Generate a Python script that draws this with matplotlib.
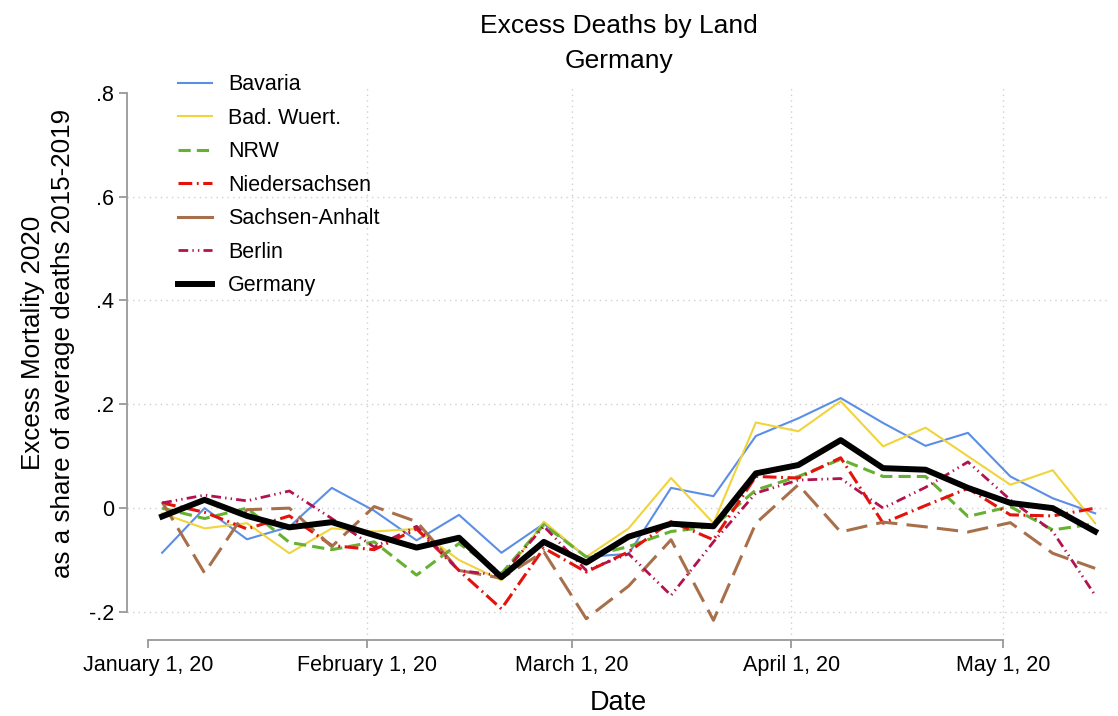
import matplotlib
matplotlib.use("Agg")
import matplotlib.pyplot as plt
import matplotlib.dates as mdates
import pandas as pd

plt.rcParams['font.family'] = ['Liberation Sans', 'DejaVu Sans']

# weekly observations (6-day steps as plotted)
dates = pd.to_datetime([
    '2020-01-03', '2020-01-09', '2020-01-15', '2020-01-21', '2020-01-27',
    '2020-02-02', '2020-02-08', '2020-02-14', '2020-02-20', '2020-02-26',
    '2020-03-03', '2020-03-09', '2020-03-15', '2020-03-21', '2020-03-27',
    '2020-04-02', '2020-04-08', '2020-04-14', '2020-04-20', '2020-04-26',
    '2020-05-02', '2020-05-08', '2020-05-14'])

bavaria = [-0.086, 0.0, -0.06, -0.036, 0.039, -0.005, -0.062, -0.013, -0.086, -0.03, -0.094, -0.088,
           0.039, 0.023, 0.139, 0.173, 0.212, 0.164, 0.12, 0.145, 0.061, 0.019, -0.01]
bad_wuert = [-0.01, -0.039, -0.029, -0.087, -0.039, -0.045, -0.04, -0.10, -0.139, -0.026, -0.094, -0.039,
             0.058, -0.029, 0.165, 0.148, 0.206, 0.119, 0.155, 0.10, 0.045, 0.073, -0.029]
nrw = [0.0, -0.02, 0.0, -0.066, -0.08, -0.065, -0.129, -0.068, -0.126, -0.032, -0.094, -0.074,
       -0.045, -0.035, 0.035, 0.061, 0.094, 0.061, 0.061, -0.016, 0.003, -0.042, -0.03]
niedersachsen = [0.01, -0.008, -0.04, -0.015, -0.072, -0.08, -0.04, -0.12, -0.194, -0.077, -0.123, -0.084,
                 -0.026, -0.061, 0.061, 0.058, 0.097, -0.029, 0.005, 0.038, -0.013, -0.015, 0.0]
sachsen_anhalt = [0.012, -0.125, -0.003, 0.0, -0.074, 0.003, -0.026, -0.12, -0.135, -0.084, -0.213, -0.15,
                  -0.061, -0.216, -0.029, 0.045, -0.046, -0.027, -0.036, -0.046, -0.028, -0.087, -0.116]
berlin = [0.01, 0.025, 0.014, 0.033, -0.02, -0.075, -0.035, -0.12, -0.13, -0.035, -0.12, -0.088,
          -0.168, -0.065, 0.029, 0.054, 0.057, 0.0, 0.04, 0.089, 0.016, -0.045, -0.168]
germany = [-0.016, 0.016, -0.015, -0.037, -0.027, -0.052, -0.076, -0.057, -0.133, -0.065, -0.105, -0.055,
           -0.03, -0.035, 0.067, 0.083, 0.131, 0.077, 0.074, 0.039, 0.01, 0.0, -0.045]

yticks = [-0.2, 0, 0.2, 0.4, 0.6, 0.8]
ytick_labels = ['-.2', '0', '.2', '.4', '.6', '.8']
xticks = pd.to_datetime(['2020-01-01', '2020-02-01', '2020-03-01', '2020-04-01', '2020-05-01'])
xtick_labels = ['January 1, 20', 'February 1, 20', 'March 1, 20', 'April 1, 20', 'May 1, 20']

fig = plt.figure(figsize=(11.18, 7.16), dpi=100)
ax = fig.add_axes([127 / 1118, 76 / 716, 983 / 1118, 555 / 716])

# grid (Stata style: dotted, not at the outer ticks)
for y in yticks[:-1]:
    ax.axhline(y, color='#d0d0d0', lw=1, ls=(0, (1, 3)), zorder=0)
for d in xticks[1:]:
    ax.axvline(d, color='#d0d0d0', lw=1, ls=(0, (1, 3)), zorder=0)

ax.plot(dates, bavaria, color='#5b8ee6', lw=1.5, label='Bavaria')
ax.plot(dates, bad_wuert, color='#f0d43a', lw=1.5, label='Bad. Wuert.')
ax.plot(dates, nrw, color='#66b032', lw=2.2, ls=(0, (4, 2)), label='NRW')
ax.plot(dates, niedersachsen, color='#e3120b', lw=2.2, ls=(0, (4.5, 1.5, 0.6, 1.5)), label='Niedersachsen')
ax.plot(dates, sachsen_anhalt, color='#a8704a', lw=2.2, ls=(0, (7, 3)), label='Sachsen-Anhalt')
ax.plot(dates, berlin, color='#b3124e', lw=2.0, ls=(0, (3.5, 1.5, 0.5, 1.5, 0.5, 1.5)), label='Berlin')
ax.plot(dates, germany, color='black', lw=4.3, label='Germany')

day0 = pd.Timestamp('2020-01-01')
ax.set_xlim(mdates.date2num(day0 - pd.Timedelta(days=2.97)), mdates.date2num(day0 + pd.Timedelta(days=136.1)))
ax.set_ylim(-0.254, 0.815)

ax.set_yticks(yticks)
ax.set_yticklabels(ytick_labels)
ax.set_xticks(xticks)
ax.set_xticklabels(xtick_labels)

for s in ['top', 'right']:
    ax.spines[s].set_visible(False)
ax.spines['left'].set_bounds(-0.2, 0.8)
ax.spines['bottom'].set_bounds(mdates.date2num(xticks[0]), mdates.date2num(xticks[-1]))
for s in ['left', 'bottom']:
    ax.spines[s].set_color('#999999')
    ax.spines[s].set_linewidth(1.3)
ax.tick_params(axis='both', colors='#999999', length=6, width=1.3, labelsize=15.5, labelcolor='black')
ax.tick_params(axis='x', pad=5)

ax.set_xlabel('Date', fontsize=19.5, labelpad=10)
ax.set_ylabel('Excess Mortality 2020\nas a share of average deaths 2015-2019', fontsize=18.7,
              linespacing=1.3)
ax.yaxis.set_label_coords(-0.053, 0.535)
ax.set_title('Excess Deaths by Land\nGermany', fontsize=19, pad=12, linespacing=1.6)

leg = ax.legend(loc='upper left', bbox_to_anchor=(0.032, 1.054), frameon=False, fontsize=15.5,
                handlelength=1.58, labelspacing=0.58, handletextpad=0.74)
# long-dash handle reads as a solid stroke in the reference legend
leg.get_lines()[4].set_linestyle('-')

fig.savefig('out.png', dpi=100)
